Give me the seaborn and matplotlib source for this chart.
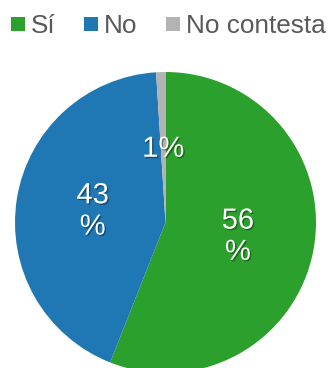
import matplotlib
matplotlib.use("Agg")
import matplotlib.pyplot as plt
import matplotlib.patheffects as pe
from matplotlib.patches import Rectangle
import numpy as np
import seaborn as sns

categories = ["Sí", "No", "No contesta"]
values = [56, 43, 1]
pct_labels = ["56\n%", "43\n%", "1%"]
colors = ["#2ca02c", "#1f77b4", "#b3b3b3"]

sns.set_theme(style="white")
plt.rcParams["font.family"] = ["Liberation Sans", "DejaVu Sans"]

W, H = 330, 368
fig = plt.figure(figsize=(W / 100, H / 100), dpi=100)
ax = fig.add_axes([15 / W, -5 / H, 301 / W, 301 / H])

wedges, _ = ax.pie(values, colors=colors, startangle=90, counterclock=False,
                   radius=1.0, wedgeprops=dict(linewidth=0))
ax.set_xlim(-1, 1)
ax.set_ylim(-1, 1)
ax.set_aspect("equal")
ax.axis("off")

dist = 0.49
for w, lab in zip(wedges, pct_labels):
    ang = np.deg2rad((w.theta1 + w.theta2) / 2)
    t = ax.text(dist * np.cos(ang), dist * np.sin(ang), lab, ha="center", va="center",
                color="white", fontsize=21, linespacing=1.15)
    t.set_path_effects([pe.withSimplePatchShadow(offset=(1, -1), shadow_rgbFace="black", alpha=0.35)])

# legend row (manual layout in pixels)
square_x = [11, 84, 166]
for x0, c, lab in zip(square_x, colors, categories):
    fig.patches.append(Rectangle((x0 / W, 1 - 31 / H), 14 / W, 14 / H,
                                 transform=fig.transFigure, facecolor=c,
                                 edgecolor="none", figure=fig))
    fig.text((x0 + 20) / W, 1 - 33 / H, lab, ha="left", va="baseline",
             fontsize=18.8, color="#595959")

fig.savefig("out.png", dpi=100)
